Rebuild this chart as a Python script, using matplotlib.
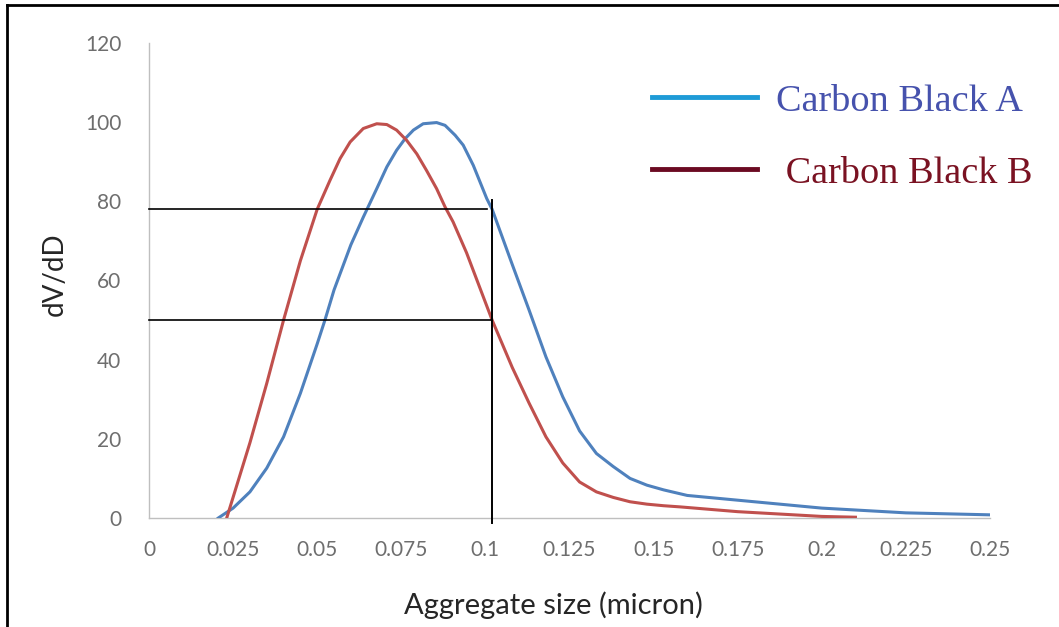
import matplotlib
matplotlib.use("Agg")
import matplotlib.pyplot as plt
from matplotlib.lines import Line2D
from matplotlib.font_manager import FontProperties

# Particle size distribution of two carbon blacks (volume-weighted, normalised to 100)
size_a = [0.0206, 0.025, 0.030, 0.035, 0.040, 0.045, 0.050, 0.0523, 0.055, 0.060,
          0.0637, 0.0677, 0.0707, 0.0736, 0.0761, 0.0786, 0.0815, 0.0855, 0.088, 0.091,
          0.0934, 0.0964, 0.1004, 0.102, 0.108, 0.113, 0.118, 0.123, 0.128, 0.133,
          0.138, 0.143, 0.148, 0.153, 0.160, 0.175, 0.200, 0.225, 0.250]
dvdd_a = [0, 2.5, 6.6, 12.6, 20.5, 31.5, 44, 50, 57.6, 69,
          76, 83.2, 88.7, 92.9, 95.8, 98, 99.6, 99.9, 99.2, 96.7,
          94.2, 89.1, 80.7, 78, 64, 52.5, 40.7, 30.6, 22, 16.3,
          13, 10, 8.3, 7.1, 5.7, 4.5, 2.5, 1.3, 0.8]

size_b = [0.0231, 0.030, 0.035, 0.040, 0.045, 0.050, 0.0538, 0.0568, 0.0598, 0.0637,
          0.0677, 0.0707, 0.0736, 0.0766, 0.0796, 0.0825, 0.0855, 0.088, 0.0904, 0.0944,
          0.102, 0.108, 0.113, 0.118, 0.123, 0.128, 0.133, 0.138, 0.143, 0.148,
          0.153, 0.158, 0.175, 0.200, 0.210]
dvdd_b = [0, 19, 34, 50, 65, 78, 85.3, 90.8, 95, 98.4,
          99.6, 99.4, 98, 95.4, 92, 87.8, 83.2, 78.6, 74.8, 67,
          50, 38, 29, 20.5, 13.9, 9.1, 6.6, 5.2, 4.1, 3.5,
          3.1, 2.8, 1.6, 0.4, 0.2]

series_labels = ["Carbon Black A", " Carbon Black B"]
x_ticks = [0, 0.025, 0.05, 0.075, 0.1, 0.125, 0.15, 0.175, 0.2, 0.225, 0.25]
x_tick_labels = ["0", "0.025", "0.05", "0.075", "0.1", "0.125", "0.15", "0.175", "0.2", "0.225", "0.25"]
y_ticks = [0, 20, 40, 60, 80, 100, 120]

# guide lines marking the reading at 0.1 micron
guide_levels = [78, 50]
guide_ends = [0.1005, 0.102]
guide_x = 0.102
guide_span = [-1.2, 80.3]

W, H = 1059, 627
fig = plt.figure(figsize=(W / 100, H / 100), dpi=100)
ax = fig.add_axes([149 / W, 1 - 518 / H, (990 - 149) / W, (518 - 43) / H])

col_a = "#4f81bd"
col_b = "#c0504d"
ax.plot(size_a, dvdd_a, color=col_a, lw=2.2, solid_joinstyle="round", zorder=3)
ax.plot(size_b, dvdd_b, color=col_b, lw=2.2, solid_joinstyle="round", zorder=3)

for lvl, end in zip(guide_levels, guide_ends):
    ax.plot([0, end], [lvl, lvl], color="black", lw=1.2, zorder=4, clip_on=False)
ax.plot([guide_x, guide_x], guide_span, color="black", lw=1.4, zorder=4, clip_on=False)

ax.set_xlim(0, 0.25)
ax.set_ylim(0, 120)
ax.set_xticks(x_ticks)
ax.set_xticklabels(x_tick_labels)
ax.set_yticks(y_ticks)
for lab in ax.get_xticklabels() + ax.get_yticklabels():
    lab.set_fontfamily("Lato")
    lab.set_fontsize(15)
    lab.set_color("#6e6e6e")
ax.tick_params(axis="both", length=0)
ax.tick_params(axis="x", pad=16)
ax.tick_params(axis="y", pad=20)

for side in ("top", "right"):
    ax.spines[side].set_visible(False)
for side in ("left", "bottom"):
    ax.spines[side].set_color("#bfbfbf")
    ax.spines[side].set_linewidth(1.0)

fig.text(553 / W, 1 - 605 / H, "Aggregate size (micron)", ha="center", va="center",
         family="Lato", fontsize=21, color="#262626")
fig.text(55 / W, 1 - 274 / H, "dV/dD", ha="center", va="center", rotation=90,
         family="Lato", fontsize=20, color="#262626")

handles = [Line2D([], [], color="#1e9bd7", lw=3.5), Line2D([], [], color="#6b0a22", lw=3.5)]
leg = ax.legend(handles, series_labels, loc="upper left",
                bbox_to_anchor=(652 / W, 1 - 84 / H), bbox_transform=fig.transFigure,
                frameon=False, prop=FontProperties(family="Liberation Serif", size=27.5),
                handlelength=2.75, handletextpad=0.5, labelspacing=0.97, borderpad=0,
                borderaxespad=0)
for txt, c in zip(leg.get_texts(), ["#4652ad", "#7a1222"]):
    txt.set_color(c)

# page frame: top and left edges
fig.add_artist(Line2D([7 / W, 1], [1 - 5 / H, 1 - 5 / H], color="black", lw=2,
                      transform=fig.transFigure))
fig.add_artist(Line2D([7 / W, 7 / W], [0, 1 - 5 / H], color="black", lw=2,
                      transform=fig.transFigure))

fig.savefig("out.png", dpi=100)
